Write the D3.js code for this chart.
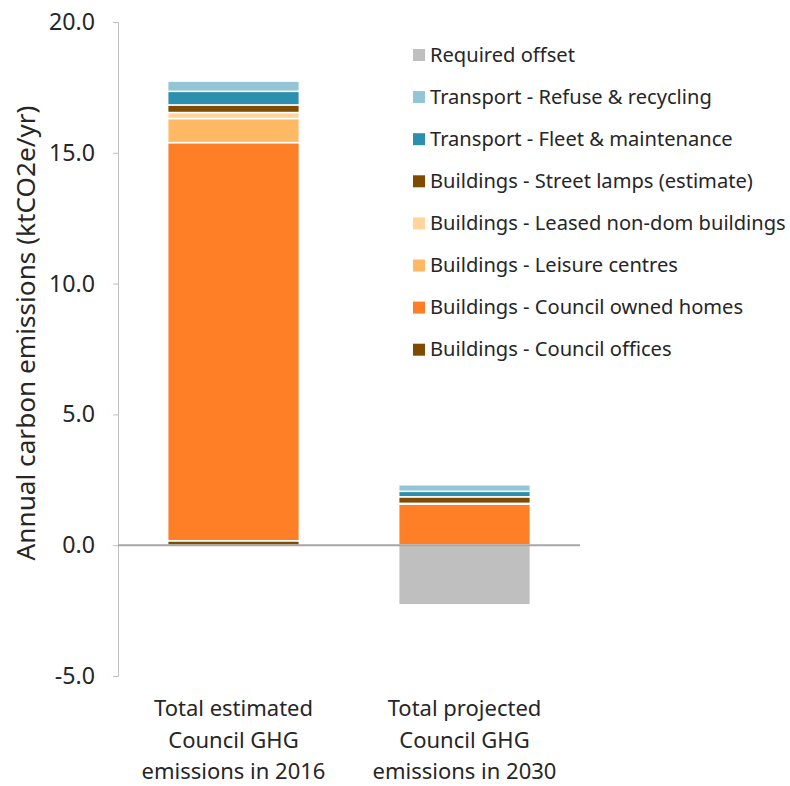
<!DOCTYPE html>
<html><head><meta charset="utf-8">
<script src="https://cdn.jsdelivr.net/npm/d3@7"></script>
<style>body{margin:0;background:#fff;}svg{display:block;font-family:"Noto Sans",sans-serif;}</style>
</head><body><svg id="c" width="790" height="786"></svg>
<script>
const categories = [
  ["Total estimated","Council GHG","emissions in 2016"],
  ["Total projected","Council GHG","emissions in 2030"]
];
const seriesNames = [
  "Buildings - Council offices",
  "Buildings - Council owned homes",
  "Buildings - Leisure centres",
  "Buildings - Leased non-dom buildings",
  "Buildings - Street lamps (estimate)",
  "Transport - Fleet & maintenance",
  "Transport - Refuse & recycling",
  "Required offset"
];
const councilOffices   = [0.17, 0.0];
const councilHomes     = [15.22, 1.57];
const leisureCentres   = [0.92, 0.0];
const leasedNonDom     = [0.23, 0.03];
const streetLamps      = [0.29, 0.25];
const fleetMaintenance = [0.52, 0.21];
const refuseRecycling  = [0.39, 0.25];
const requiredOffset   = [0.0, -2.28];
const seriesColors = ["#7f4b00","#ff7f27","#ffb964","#ffd59c","#7f4b00","#2b8fad","#93c5d6","#bfbfbf"];
const yTicks = [-5, 0, 5, 10, 15, 20];

const allSeries = [councilOffices, councilHomes, leisureCentres, leasedNonDom, streetLamps, fleetMaintenance, refuseRecycling, requiredOffset];
const rows = categories.map((c, i) => {
  const r = {key: i};
  seriesNames.forEach((s, j) => r[s] = allSeries[j][i]);
  return r;
});

const svg = d3.select("#c");
const FONT = "'Noto Sans',sans-serif";
function fitSize(txt, target){
  const t = svg.append("text").attr("font-size",20).attr("font-family",FONT).text(txt);
  const w = t.node().getComputedTextLength();
  t.remove();
  return 20*target/w;
}
const tickSize = fitSize("20.0", 46);
const titleSize = fitSize("Annual carbon emissions (ktCO2e/yr)", 455);
const legendSize = fitSize("Buildings - Leased non-dom buildings", 356);
const xSize = fitSize("emissions in 2016", 184);

const x = d3.scaleBand().domain([0,1]).range([118, 580]).paddingInner(0.43).paddingOuter(0.215);
const y = d3.scaleLinear().domain([-5, 20]).range([676, 22]);

const fmt = d => d3.format(".1f")(d).replace("\u2212","-");
const ya = svg.append("g").attr("transform","translate(118,0)")
  .call(d3.axisLeft(y).tickValues(yTicks).tickSize(5).tickPadding(18).tickFormat(fmt));
ya.select(".domain").attr("stroke","#bfbfbf");
ya.selectAll(".tick line").attr("stroke","#bfbfbf");
ya.selectAll(".tick text").attr("font-size",tickSize).attr("fill","#262626").attr("font-family",FONT);

svg.append("text").attr("transform","translate(35,333) rotate(-90)")
  .attr("text-anchor","middle").attr("font-size",titleSize).attr("fill","#262626")
  .text("Annual carbon emissions (ktCO2e/yr)");

const stack = d3.stack().keys(seriesNames).offset(d3.stackOffsetDiverging);
const stacked = stack(rows);

svg.append("g").selectAll("g").data(stacked).join("g")
  .attr("fill",(d,i)=>seriesColors[i])
  .selectAll("rect").data(d=>d).join("rect")
  .attr("x",(d,i)=>x(i))
  .attr("width",x.bandwidth())
  .attr("y",d=>y(Math.max(d[0],d[1])))
  .attr("height",d=>Math.abs(y(d[0])-y(d[1])))
  .attr("stroke","#fff").attr("stroke-width",1.5)
  .attr("display",d=>Math.abs(d[1]-d[0])>0?null:"none");

svg.append("line").attr("x1",118).attr("x2",580).attr("y1",y(0)).attr("y2",y(0))
  .attr("stroke","#a6a6a6").attr("stroke-width",2);

const xl = svg.append("g");
categories.forEach((lines,i)=>{
  const cx = x(i)+x.bandwidth()/2;
  lines.forEach((t,k)=>{
    xl.append("text").attr("x",cx).attr("y",716+k*31.5).attr("text-anchor","middle")
      .attr("font-size",xSize).attr("fill","#262626").text(t);
  });
});

const legendOrder = seriesNames.map((s,i)=>i).reverse();
const lg = svg.append("g");
legendOrder.forEach((idx,k)=>{
  const cy = 55 + k*42.1;
  lg.append("rect").attr("x",413).attr("y",cy-6).attr("width",12).attr("height",12).attr("fill",seriesColors[idx]);
  lg.append("text").attr("x",430).attr("y",cy+6.5).attr("font-size",legendSize).attr("fill","#262626").text(seriesNames[idx]);
});
</script></body></html>
